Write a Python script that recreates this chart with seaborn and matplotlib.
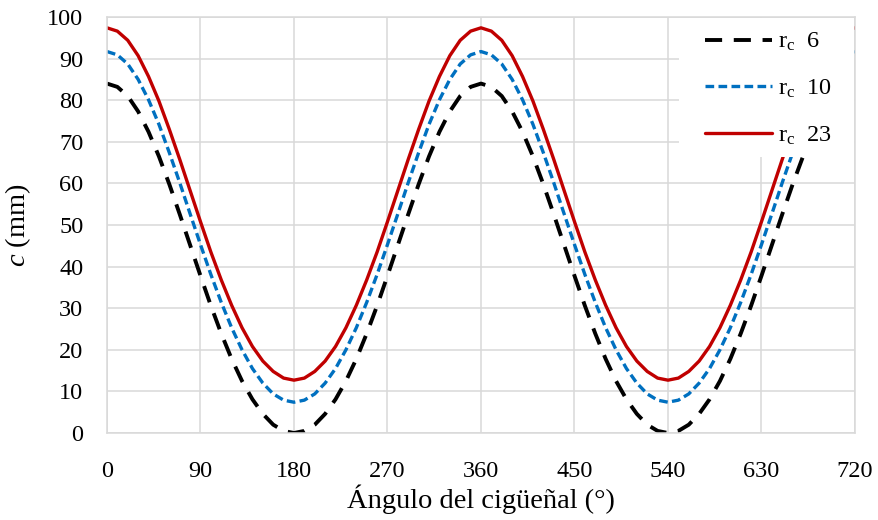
import matplotlib
matplotlib.use("Agg")
import matplotlib.pyplot as plt
from matplotlib.patches import Rectangle
import seaborn as sns
import pandas as pd

# crank angle (deg) and piston position c (mm)
angle = list(range(0, 721, 10))

c_rc6 = [
    84.0, 83.2, 81.0, 77.3, 72.4, 66.5, 59.8, 52.6, 45.2, 37.8, 30.6, 23.9, 17.8, 12.5, 8.1, 4.6, 2.0, 0.5, 0.0,
    0.5, 2.0, 4.6, 8.1, 12.5, 17.8, 23.9, 30.6, 37.8, 45.2, 52.6, 59.8, 66.5, 72.4, 77.3, 81.0, 83.2, 84.0,
    83.2, 81.0, 77.3, 72.4, 66.5, 59.8, 52.6, 45.2, 37.8, 30.6, 23.9, 17.8, 12.5, 8.1, 4.6, 2.0, 0.5, 0.0,
    0.5, 2.0, 4.6, 8.1, 12.5, 17.8, 23.9, 30.6, 37.8, 45.2, 52.6, 59.8, 66.5, 72.4, 77.3, 81.0, 83.2, 84.0,
]
c_rc10 = [
    91.7, 90.9, 88.7, 85.0, 80.1, 74.2, 67.4, 60.2, 52.7, 45.3, 38.1, 31.4, 25.3, 20.0, 15.5, 12.0, 9.4, 7.9, 7.4,
    7.9, 9.4, 12.0, 15.5, 20.0, 25.3, 31.4, 38.1, 45.3, 52.7, 60.2, 67.4, 74.2, 80.1, 85.0, 88.7, 90.9, 91.7,
    90.9, 88.7, 85.0, 80.1, 74.2, 67.4, 60.2, 52.7, 45.3, 38.1, 31.4, 25.3, 20.0, 15.5, 12.0, 9.4, 7.9, 7.4,
    7.9, 9.4, 12.0, 15.5, 20.0, 25.3, 31.4, 38.1, 45.3, 52.7, 60.2, 67.4, 74.2, 80.1, 85.0, 88.7, 90.9, 91.7,
]
c_rc23 = [
    97.4, 96.6, 94.4, 90.7, 85.7, 79.8, 73.0, 65.8, 58.3, 50.8, 43.5, 36.8, 30.7, 25.3, 20.8, 17.3, 14.8, 13.2, 12.7,
    13.2, 14.8, 17.3, 20.8, 25.3, 30.7, 36.8, 43.5, 50.8, 58.3, 65.8, 73.0, 79.8, 85.7, 90.7, 94.4, 96.6, 97.4,
    96.6, 94.4, 90.7, 85.7, 79.8, 73.0, 65.8, 58.3, 50.8, 43.5, 36.8, 30.7, 25.3, 20.8, 17.3, 14.8, 13.2, 12.7,
    13.2, 14.8, 17.3, 20.8, 25.3, 30.7, 36.8, 43.5, 50.8, 58.3, 65.8, 73.0, 79.8, 85.7, 90.7, 94.4, 96.6, 97.4,
]

labels = ["r$_\\mathrm{c}$  6", "r$_\\mathrm{c}$  10", "r$_\\mathrm{c}$  23"]
xticks = list(range(0, 721, 90))
yticks = list(range(0, 101, 10))

sns.set_style("white")
plt.rcParams["font.family"] = ["Liberation Serif", "DejaVu Serif"]
plt.rcParams["mathtext.fontset"] = "custom"
plt.rcParams["mathtext.rm"] = "Liberation Serif"
plt.rcParams["mathtext.it"] = "Liberation Serif:italic"
for key in ["text.color", "axes.labelcolor", "xtick.color", "ytick.color"]:
    plt.rcParams[key] = "black"

grid_col = "#d9d9d9"

fig = plt.figure(figsize=(8.79, 5.2), dpi=100)
ax = fig.add_axes([0.1217, 0.1673, 0.851, 0.80])

styles = [
    (c_rc6, "black", (0, (4.4, 3.0)), 2.8),
    (c_rc10, "#0070C0", (0, (2.6, 1.3)), 2.4),
    (c_rc23, "#C00000", "-", 2.4),
]
for (vals, col, ls, lw), lab in zip(styles, labels):
    df = pd.DataFrame({"angle": angle, "c": vals})
    sns.lineplot(data=df, x="angle", y="c", ax=ax, color=col,
                 linestyle=ls, linewidth=lw, label=lab)

ax.set_xlim(0, 720)
ax.set_ylim(0, 100)
ax.set_xticks(xticks)
ax.set_yticks(yticks)
ax.grid(True, color=grid_col, linewidth=1.1)
ax.set_axisbelow(True)
for sp in ax.spines.values():
    sp.set_color(grid_col)
    sp.set_linewidth(1.1)
    sp.set_zorder(4.5)
ax.tick_params(axis="both", length=0, labelsize=17.5)
ax.tick_params(axis="x", pad=20)
ax.tick_params(axis="y", pad=17)

ax.set_xlabel("Ángulo del cigüeñal (°)", fontsize=20.5, labelpad=2)
ax.set_ylabel("$\\mathit{c}$ (mm)", fontsize=20.5, labelpad=10)

# white legend area covering the top-right corner of the plot
ax.add_patch(Rectangle((0.765, 0.663), 0.233, 0.335, transform=ax.transAxes,
                       facecolor="white", edgecolor="none", zorder=4))
leg = ax.legend(loc="upper left", bbox_to_anchor=(0.7995, 0.966), borderaxespad=0,
                fontsize=17.5, handlelength=2.75, labelspacing=1.0,
                frameon=False, borderpad=0, handletextpad=0.25)
leg.set_zorder(5)

fig.savefig("out.png", dpi=100)
